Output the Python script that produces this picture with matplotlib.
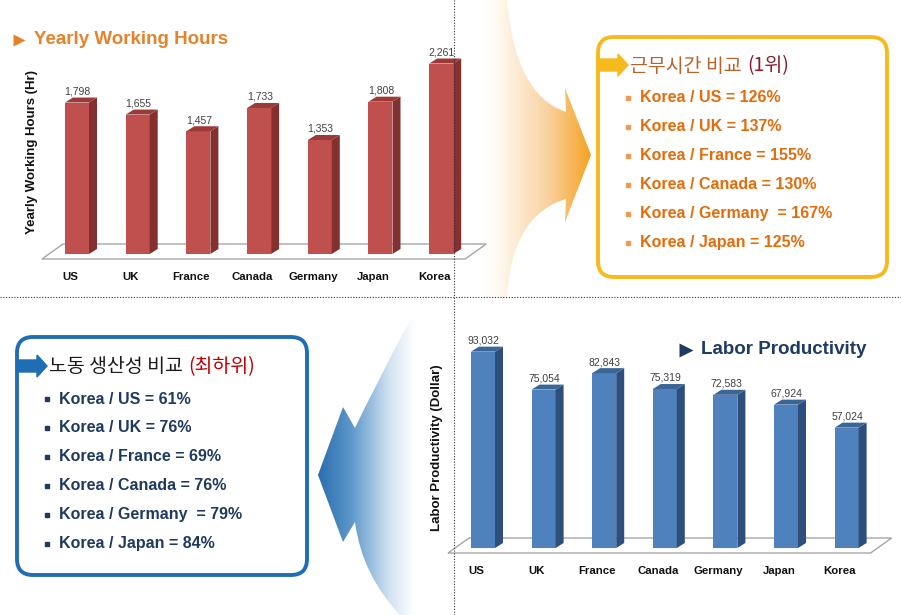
import numpy as np
import matplotlib
matplotlib.use('Agg')
import matplotlib.pyplot as plt
from matplotlib.patches import Polygon, FancyBboxPatch, PathPatch, FancyArrow
from matplotlib.path import Path
from matplotlib.lines import Line2D
from matplotlib.colors import LinearSegmentedColormap

plt.rcParams['font.family'] = ['Liberation Sans', 'Noto Sans CJK KR', 'DejaVu Sans']

# data
countries = ['US', 'UK', 'France', 'Canada', 'Germany', 'Japan', 'Korea']
hours = [1798, 1655, 1457, 1733, 1353, 1808, 2261]
productivity = [93032, 75054, 82843, 75319, 72583, 67924, 57024]
hours_ratio = [126, 137, 155, 130, 167, 125]
productivity_ratio = [61, 76, 69, 76, 79, 84]

W, H = 901, 615
KR = ['Noto Sans CJK KR', 'DejaVu Sans']

fig = plt.figure(figsize=(W / 100, H / 100), dpi=100)
# background axes in pixel coords (y down)
bg = fig.add_axes([0, 0, 1, 1])
bg.set_xlim(0, W)
bg.set_ylim(H, 0)
bg.axis('off')


def gradient_arrow(verts, codes, x0, x1, stops):
    patch = PathPatch(Path(verts, codes), facecolor='none', edgecolor='none')
    bg.add_patch(patch)
    cmap = LinearSegmentedColormap.from_list('g', stops)
    grad = np.linspace(0, 1, 256).reshape(1, -1)
    im = bg.imshow(grad, cmap=cmap, extent=(x0, x1, H, 0), aspect='auto',
                   interpolation='bilinear', zorder=1)
    im.set_clip_path(patch)
    bg.set_xlim(0, W)
    bg.set_ylim(H, 0)


def bar_chart(values, rect, x0, step, per_px, front, side_c, top_c):
    left, right, top, base = rect
    ax = fig.add_axes([left / W, 1 - base / H, (right - left) / W, (base - top) / H])
    ax.set_xlim((left - x0) / step, (right - x0) / step)
    ax.set_ylim(0, (base - top) * per_px)
    ax.axis('off')
    ax.patch.set_alpha(0)
    ux, uy = 1 / step, per_px
    w = 24 * ux
    dx, dy = 8 * ux, 5 * uy
    n = len(values)
    # floor
    fl, fr = -35 * ux, (n - 1) + 24 * ux
    floor = [(fl, -5 * uy), (fr, -5 * uy), (fr + 21 * ux, 10 * uy), (fl + 21 * ux, 10 * uy)]
    ax.add_patch(Polygon(floor, closed=True, fc='white', ec='#A6A6A6', lw=1,
                         clip_on=False, zorder=1))
    for i, v in enumerate(values):
        ax.bar(i, v, width=w, color=front, clip_on=False, zorder=3)
        side = [(i + w / 2, 0), (i + w / 2 + dx, dy), (i + w / 2 + dx, v + dy), (i + w / 2, v)]
        topf = [(i - w / 2, v), (i + w / 2, v), (i + w / 2 + dx, v + dy), (i - w / 2 + dx, v + dy)]
        ax.add_patch(Polygon(side, closed=True, fc=side_c, ec='none', clip_on=False, zorder=3))
        ax.add_patch(Polygon(topf, closed=True, fc=top_c, ec='none', clip_on=False, zorder=3))
        ax.annotate(f'{v:,}', (i, v), xytext=(0.5, 8), textcoords='offset points',
                    ha='center', va='center', fontsize=7.5, color='#404040')
        ax.annotate(countries[i], (i, 0), xytext=(-5, -16.5), textcoords='offset points',
                    ha='center', va='center', fontsize=8.2, fontweight='bold', color='#111111')
    return ax


def info_box(x, y, w, h, color, arrow_y, title, title_color, rank, rank_color,
             lines, text_color, bullet_color):
    bg.add_patch(FancyBboxPatch((x, y), w, h, boxstyle='round,pad=0,rounding_size=16',
                                fc='white', ec=color, lw=2.8, zorder=2))
    bg.add_patch(FancyArrow(x, arrow_y, 30, 0, width=12, head_width=22, head_length=10,
                            length_includes_head=True, color=color, zorder=3))
    t = bg.text(x + 32, arrow_y + 1, title, family=KR, fontsize=14, color=title_color,
                va='center', ha='left', zorder=4)
    bg.annotate(rank, xy=(1, 0.5), xycoords=t, xytext=(4, 0), textcoords='offset points',
                family=KR, fontsize=14, color=rank_color, va='center', ha='left', zorder=4)
    for k, s in enumerate(lines):
        yy = arrow_y + 33 + k * 28.9
        bg.plot(x + 30, yy, 's', ms=3.4, color=bullet_color, zorder=4)
        bg.text(x + 42, yy, s, fontsize=11.5, fontweight='bold', color=text_color,
                va='center', ha='left', zorder=4)


def main():
    # orange curved arrow (top right)
    gradient_arrow(
        [(482, 0), (507, 0), (515, 95), (566, 112), (565, 88), (591, 155), (565, 222),
         (566, 199), (512, 215), (507, 297), (482, 297), (482, 0)],
        [Path.MOVETO, Path.LINETO, Path.CURVE3, Path.CURVE3, Path.LINETO, Path.LINETO,
         Path.LINETO, Path.LINETO, Path.CURVE3, Path.CURVE3, Path.LINETO, Path.CLOSEPOLY],
        482, 592, [(0, '#FFFFFF'), (0.15, '#FFF9F0'), (0.6, '#F9D2A0'), (1, '#F5A11E')])
    # blue curved arrow (bottom left)
    gradient_arrow(
        [(418, 320), (410, 320), (372, 392), (355, 428), (343, 407), (318, 475), (343, 542),
         (355, 522), (362, 575), (400, 615), (418, 615), (418, 320)],
        [Path.MOVETO, Path.LINETO, Path.CURVE3, Path.CURVE3, Path.LINETO, Path.LINETO,
         Path.LINETO, Path.LINETO, Path.CURVE3, Path.CURVE3, Path.LINETO, Path.CLOSEPOLY],
        318, 414, [(0, '#2A6DB0'), (0.35, '#5E98CA'), (0.75, '#D3E3F1'), (1, '#FFFFFF')])

    # titles
    bg.plot(19, 40, '>', ms=9, color='#E5832B', mec='none')
    bg.text(34, 40, 'Yearly Working Hours', fontsize=13.5, fontweight='bold',
            color='#E5832B', va='center', ha='left')
    bg.plot(686, 350, '>', ms=9.5, color='#1F3B63', mec='none')
    bg.text(701, 350, 'Labor Productivity', fontsize=13.5, fontweight='bold',
            color='#1F3B63', va='center', ha='left')
    bg.text(32, 152, 'Yearly Working Hours (Hr)', rotation=90, fontsize=9.5,
            fontweight='bold', va='center', ha='center', color='#111111')
    bg.text(437, 448, 'Labor Productivity (Dollar)', rotation=90, fontsize=9.5,
            fontweight='bold', va='center', ha='center', color='#111111')

    # comparison boxes
    sp = lambda c: '  ' if c == 'Germany' else ' '
    info_box(598, 37, 289, 240, '#F6BA1C', 65, '근무시간 비교', '#B8632B', '(1위)', '#8B1C2C',
             [f'Korea / {c}{sp(c)}= {r}%' for c, r in zip(countries[:-1], hours_ratio)],
             '#E46C0A', '#EE9A55')
    info_box(17, 337, 290, 238, '#1F6EB4', 366, '노동 생산성 비교', '#1A1A1A', '(최하위)', '#C00000',
             [f'Korea / {c}{sp(c)}= {r}%' for c, r in zip(countries[:-1], productivity_ratio)],
             '#1F3A60', '#1F3A60')

    # bar charts
    bar_chart(hours, (40, 490, 30, 254), 77, 60.7, 11.87, '#C0504D', '#83302E', '#9C3A37')
    bar_chart(productivity, (445, 895, 320, 548), 483, 60.6, 473.8, '#4F81BD', '#2E4F7B', '#3A6697')

    # dotted dividers
    fig.add_artist(Line2D([454 / W, 454 / W], [0, 1], transform=fig.transFigure,
                          color='#333333', lw=0.8, ls=(0, (1, 1.5))))
    fig.add_artist(Line2D([0, 1], [1 - 297 / H, 1 - 297 / H], transform=fig.transFigure,
                          color='#333333', lw=0.8, ls=(0, (1, 1.5))))

    fig.savefig('out.png', dpi=100)


if __name__ == '__main__':
    main()
